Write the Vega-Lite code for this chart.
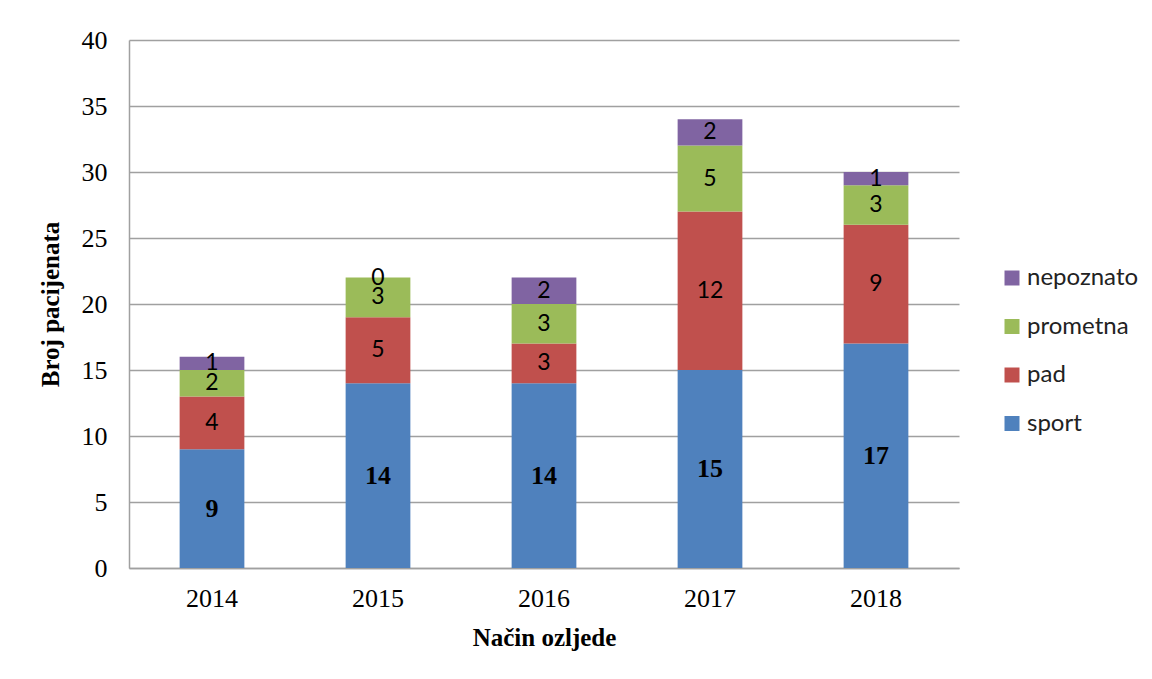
{
  "$schema": "https://vega.github.io/schema/vega-lite/v6.json",
  "width": 830,
  "height": 528,
  "autosize": {"type": "none"},
  "padding": {"left": 129, "top": 40, "right": 193, "bottom": 111},
  "background": "white",
  "config": {
    "view": {"stroke": null},
    "axis": {"labelFont": "Liberation Serif", "titleFont": "Liberation Serif", "labelColor": "black", "titleColor": "black"}
  },
  "data": {
    "values": [
      {"godina": "2014", "nacin": "sport", "ord": 1, "broj": 9},
      {"godina": "2014", "nacin": "pad", "ord": 2, "broj": 4},
      {"godina": "2014", "nacin": "prometna", "ord": 3, "broj": 2},
      {"godina": "2014", "nacin": "nepoznato", "ord": 4, "broj": 1},
      {"godina": "2015", "nacin": "sport", "ord": 1, "broj": 14},
      {"godina": "2015", "nacin": "pad", "ord": 2, "broj": 5},
      {"godina": "2015", "nacin": "prometna", "ord": 3, "broj": 3},
      {"godina": "2015", "nacin": "nepoznato", "ord": 4, "broj": 0},
      {"godina": "2016", "nacin": "sport", "ord": 1, "broj": 14},
      {"godina": "2016", "nacin": "pad", "ord": 2, "broj": 3},
      {"godina": "2016", "nacin": "prometna", "ord": 3, "broj": 3},
      {"godina": "2016", "nacin": "nepoznato", "ord": 4, "broj": 2},
      {"godina": "2017", "nacin": "sport", "ord": 1, "broj": 15},
      {"godina": "2017", "nacin": "pad", "ord": 2, "broj": 12},
      {"godina": "2017", "nacin": "prometna", "ord": 3, "broj": 5},
      {"godina": "2017", "nacin": "nepoznato", "ord": 4, "broj": 2},
      {"godina": "2018", "nacin": "sport", "ord": 1, "broj": 17},
      {"godina": "2018", "nacin": "pad", "ord": 2, "broj": 9},
      {"godina": "2018", "nacin": "prometna", "ord": 3, "broj": 3},
      {"godina": "2018", "nacin": "nepoznato", "ord": 4, "broj": 1}
    ]
  },
  "encoding": {
    "x": {
      "field": "godina", "type": "nominal", "title": "Način ozljede",
      "scale": {"paddingInner": 0.61, "paddingOuter": 0.305},
      "axis": {"labelAngle": 0, "labelFontSize": 26, "labelPadding": 17, "ticks": false, "domainColor": "#a0a0a0", "domainWidth": 1.5, "titleFontSize": 25, "titleFontWeight": "bold", "titlePadding": 14}
    }
  },
  "layer": [
    {
      "mark": {"type": "bar"},
      "encoding": {
        "y": {
          "field": "broj", "type": "quantitative", "stack": "zero", "title": "Broj pacijenata",
          "scale": {"domain": [0, 40]},
          "axis": {"values": [0, 5, 10, 15, 20, 25, 30, 35, 40], "labelFontSize": 26, "labelPadding": 22, "ticks": false, "domainColor": "#a0a0a0", "domainWidth": 1.5, "gridColor": "#a0a0a0", "gridWidth": 1.5, "titleFontSize": 25, "titleFontWeight": "bold", "titlePadding": 18}
        },
        "order": {"field": "ord", "type": "quantitative"},
        "color": {
          "field": "nacin", "type": "nominal",
          "scale": {"domain": ["nepoznato", "prometna", "pad", "sport"], "range": ["#8064A2", "#9BBB59", "#C0504D", "#4F81BD"]},
          "legend": {"title": null, "orient": "none", "legendX": 871, "legendY": 226, "symbolType": "square", "symbolSize": 225, "symbolStrokeWidth": 0, "symbolOpacity": 1, "labelFont": "Lato", "labelFontSize": 24, "labelColor": "#222", "labelOffset": 3, "rowPadding": 24.5}
        }
      }
    },
    {
      "transform": [
        {"stack": "broj", "groupby": ["godina"], "sort": [{"field": "ord"}], "as": ["y0", "y1"]},
        {"fold": ["y0", "y1"], "as": ["kraj", "pos"]},
        {"aggregate": [{"op": "mean", "field": "pos", "as": "mid"}], "groupby": ["godina", "nacin", "broj"]},
        {"filter": "datum.nacin !== 'sport'"}
      ],
      "mark": {"type": "text", "font": "Lato", "fontSize": 23, "color": "black", "baseline": "middle"},
      "encoding": {
        "y": {"field": "mid", "type": "quantitative", "scale": {"domain": [0, 40]}, "title": "Broj pacijenata"},
        "text": {"field": "broj", "type": "quantitative"}
      }
    },
    {
      "transform": [
        {"stack": "broj", "groupby": ["godina"], "sort": [{"field": "ord"}], "as": ["y0", "y1"]},
        {"fold": ["y0", "y1"], "as": ["kraj", "pos"]},
        {"aggregate": [{"op": "mean", "field": "pos", "as": "mid"}], "groupby": ["godina", "nacin", "broj"]},
        {"filter": "datum.nacin === 'sport'"}
      ],
      "mark": {"type": "text", "font": "Liberation Serif", "fontSize": 26, "fontWeight": "bold", "color": "black", "baseline": "middle"},
      "encoding": {
        "y": {"field": "mid", "type": "quantitative", "scale": {"domain": [0, 40]}, "title": "Broj pacijenata"},
        "text": {"field": "broj", "type": "quantitative"}
      }
    }
  ]
}
